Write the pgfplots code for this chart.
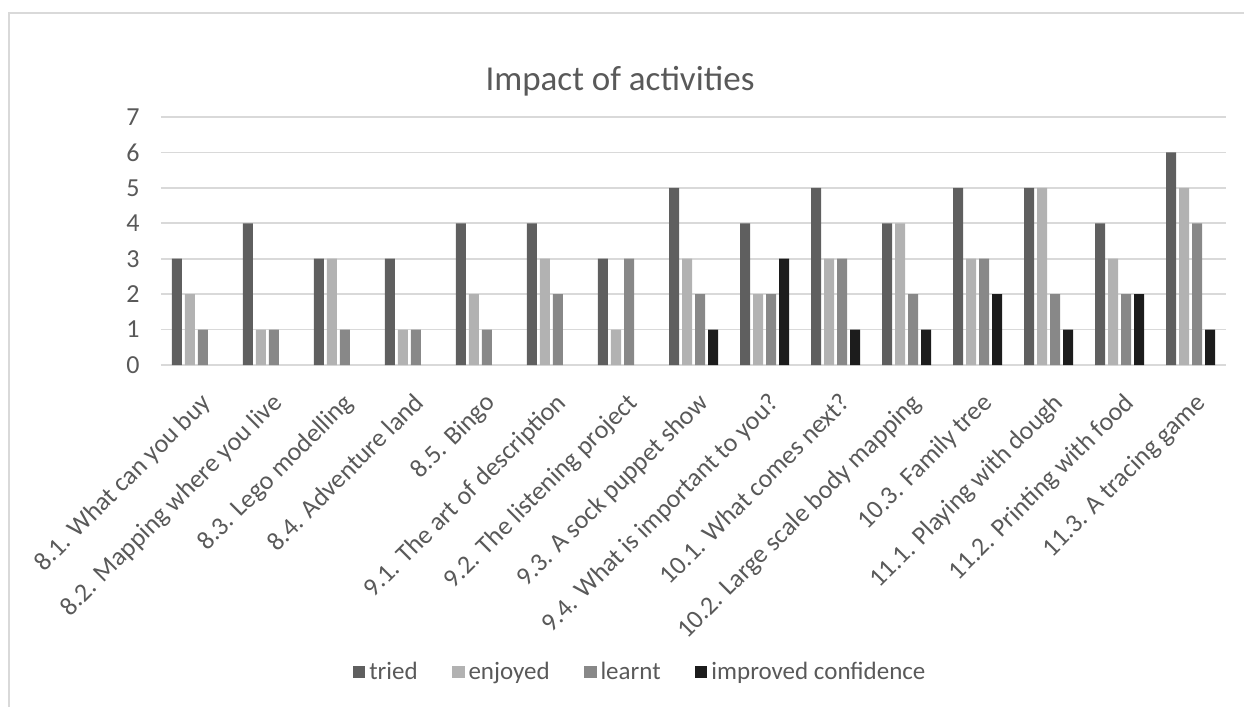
\documentclass[border=0pt]{standalone}
\usepackage{pgfplots}
\pgfplotsset{compat=1.18}
\usepackage{fontspec}
\setmainfont{Carlito}
\definecolor{tried}{HTML}{5F5F5F}
\definecolor{enjoyed}{HTML}{B2B2B2}
\definecolor{learnt}{HTML}{888888}
\definecolor{improved}{HTML}{1C1C1C}
\definecolor{txt}{HTML}{595959}
\definecolor{gridc}{HTML}{D9D9D9}

\pgfplotstableread{
x tried enjoyed learnt improved
0  3 2 1 0
1  4 1 1 0
2  3 3 1 0
3  3 1 1 0
4  4 2 1 0
5  4 3 2 0
6  3 1 3 0
7  5 3 2 1
8  4 2 2 3
9  5 3 3 1
10 4 4 2 1
11 5 3 3 2
12 5 5 2 1
13 4 3 2 2
14 6 5 4 1
}\activities

\begin{document}
\begin{tikzpicture}
\path[use as bounding box] (0,0) rectangle (622pt,353.5pt);
% chart frame (cut off at right and bottom)
\draw[gridc, line width=1pt] (4.5pt,-5pt) -- (4.5pt,347pt) -- (630pt,347pt);
\node[anchor=base, text=txt, font=\fontsize{17.5}{20}\selectfont] at (310pt,308pt) {Impact of activities};
\begin{axis}[
    at={(80.5pt,171pt)}, anchor=south west,
    scale only axis,
    width=532.5pt, height=124pt,
    ybar=1.5pt, bar width=5pt,
    xmin=-0.5, xmax=14.5,
    ymin=0, ymax=7,
    ytick={0,1,...,7},
    xtick=data,
    xticklabels={8.1. What can you buy, 8.2. Mapping where you live, 8.3. Lego modelling, 8.4. Adventure land, 8.5. Bingo, 9.1. The art of description, 9.2. The listening project, 9.3. A sock puppet show, 9.4. What is important to you?, 10.1. What comes next?, 10.2. Large scale body mapping, 10.3. Family tree, 11.1. Playing with dough, 11.2. Printing with food, 11.3. A tracing game},
    axis line style={draw=none},
    axis x line*=bottom,
    ymajorgrids,
    grid style={gridc, line width=0.9pt},
    major tick length=0pt,
    tick style={draw=none},
    /pgf/number format/assume math mode=true,
    ticklabel style={text=txt, font=\fontsize{13}{15}\selectfont},
    xticklabel style={inner sep=0pt, xshift=1.5pt, yshift=-13pt, rotate=45, anchor=north east},
    yticklabel style={anchor=east, inner sep=0pt, xshift=-10.5pt},
    legend columns=4,
    legend style={at={(0.4507,-1.238)}, anchor=center, draw=none, fill=none,
        font=\fontsize{12.5}{14}\selectfont, text=txt,
        /tikz/every even column/.append style={column sep=15pt}},
    legend cell align=left,
    legend image code/.code={\fill[#1] (0pt,-3.2pt) rectangle (6.4pt,3.2pt);},
    unbounded coords=discard,
    y filter/.expression={y==0 ? nan : y},
]
\draw[gridc, line width=0.9pt] (axis cs:-0.5,0) -- (axis cs:14.5,0);
\addplot[fill=tried, draw=none] table[x=x, y=tried] {\activities};
\addlegendentry{tried}
\addplot[fill=enjoyed, draw=none] table[x=x, y=enjoyed] {\activities};
\addlegendentry{enjoyed}
\addplot[fill=learnt, draw=none] table[x=x, y=learnt] {\activities};
\addlegendentry{learnt}
\addplot[fill=improved, draw=none] table[x=x, y=improved] {\activities};
\addlegendentry{improved confidence}
\end{axis}
\end{tikzpicture}
\end{document}
